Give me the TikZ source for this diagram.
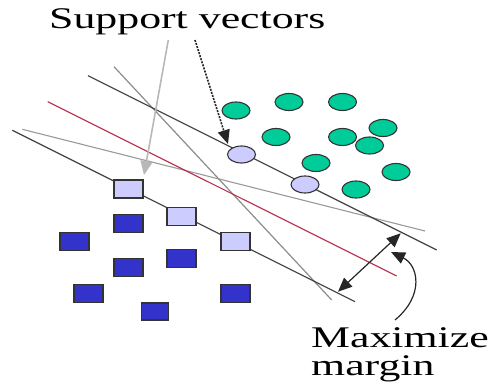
\documentclass[tikz,border=0pt]{standalone}
\usepackage{fontspec}
\setmainfont{Liberation Serif}
\usepackage{graphicx}
\usetikzlibrary{shapes.geometric,arrows.meta}
\definecolor{ptgreen}{HTML}{00CC99}
\definecolor{ptlight}{HTML}{CCCCFF}
\definecolor{ptblue}{HTML}{3333CC}
\definecolor{hypred}{HTML}{B03048}
\newcommand{\widetext}[1]{\scalebox{1.46}[1]{#1}}
\tikzset{
  pt/.style={ellipse, draw=black!80, line width=1.1pt, minimum width=28pt, minimum height=17pt, inner sep=0pt, fill=ptgreen},
  sq/.style={rectangle, draw=black!80, line width=1.1pt, minimum width=29pt, minimum height=18pt, inner sep=0pt, fill=ptblue},
  label text/.style={inner sep=0pt, font=\fontsize{30}{28}\selectfont},
  tip/.style={-{Triangle[length=14pt,width=12pt]}}
}
\begin{document}
\begin{tikzpicture}[x=1pt, y=-1pt]
    \useasboundingbox (0,0) rectangle (490,391);
    % separating lines
    \draw[black!40, line width=1.1pt] (22.3,129.3) -- (425,231);
    \draw[black!45, line width=1.2pt] (114,66.7) -- (331.7,300);
    \draw[hypred, line width=1.1pt] (47.7,101.7) -- (396.7,276);
    \draw[black!75, line width=1.2pt] (88,75.7) -- (436.7,250);
    \draw[black!75, line width=1.2pt] (12.3,130.3) -- (355,301.7);
    % class one
    \node[pt] (g1) at (236,110.5) {};
    \node[pt] (g2) at (289,102) {};
    \node[pt] (g3) at (342.5,102) {};
    \node[pt] (g4) at (276,137) {};
    \node[pt] (g5) at (342.5,137) {};
    \node[pt] (g6) at (383,128) {};
    \node[pt] (g7) at (369.5,145.5) {};
    \node[pt] (g8) at (316,163) {};
    \node[pt] (g9) at (396,172) {};
    \node[pt] (g10) at (356,189.5) {};
    \node[pt, fill=ptlight] (sv1) at (241.5,154.5) {};
    \node[pt, fill=ptlight] (sv2) at (305,184.5) {};
    % class two
    \node[sq, fill=ptlight] (sq1) at (128.5,189) {};
    \node[sq, fill=ptlight] (sq2) at (181.5,216.5) {};
    \node[sq, fill=ptlight] (sq3) at (235.5,241.5) {};
    \node[sq] (b1) at (128.5,223.5) {};
    \node[sq] (b2) at (74.5,241.5) {};
    \node[sq] (b3) at (181.5,258.5) {};
    \node[sq] (b4) at (128.5,267.5) {};
    \node[sq] (b5) at (88.5,293.5) {};
    \node[sq] (b6) at (235.5,293.5) {};
    \node[sq, minimum width=27pt, minimum height=17pt] (b7) at (155,311.5) {};
    % labels
    \node[label text, anchor=base west] (svtext) at (49,28) {\widetext{Support vectors}};
    \node[label text, anchor=base west] (mmtext) at (311,347) {\widetext{Maximize}};
    \node[label text, anchor=base west] (mgtext) at (311,375) {\widetext{margin}};
    % arrows
    \coordinate (a1) at (168.3,40);
    \coordinate (a1end) at (144,175);
    \coordinate (a2) at (195,40);
    \coordinate (a2end) at (228,144);
    \draw[tip, black!28, line width=1.6pt] (a1) -- (a1end);
    \draw[tip, black!85, line width=1.6pt, dash pattern=on 2pt off 1.2pt] (a2) -- (a2end);
    \coordinate (m1) at (338,291.7);
    \coordinate (m2) at (400.7,233.3);
    \draw[{Triangle[length=14pt,width=12pt]}-{Triangle[length=14pt,width=12pt]}, black!85, line width=1.2pt] (m1) -- (m2);
    \coordinate (c1) at (395,320);
    \coordinate (c2) at (391,252);
    \draw[tip, black!85, line width=1.2pt] (c1) .. controls (425,295) and (418,265) .. (c2);
\end{tikzpicture}
\end{document}
